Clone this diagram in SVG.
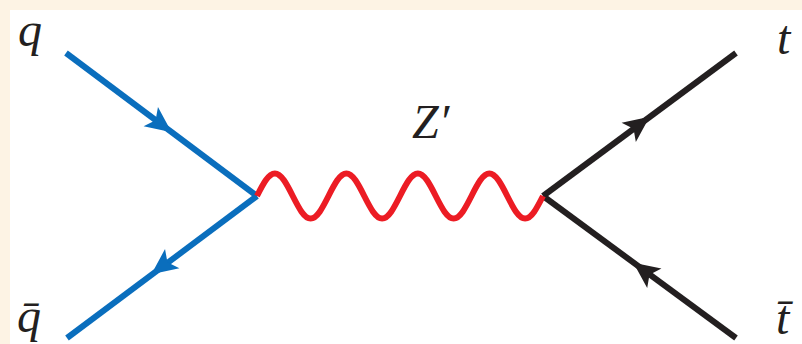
<svg xmlns="http://www.w3.org/2000/svg" width="802" height="344" viewBox="0 0 802 344">
<style>
.lbl{font-family:"Liberation Serif","Times New Roman",serif;font-style:italic;font-size:48px;fill:#231f20}
.q{stroke:#0a6ebd;stroke-width:6;fill:none}
.t{stroke:#231f20;stroke-width:6;fill:none}
.w{stroke:#ec1c24;stroke-width:6;fill:none;stroke-linecap:butt}
</style>
<defs>
<path id="ah" d="M2,0 L-24,-12 L-18,0 L-24,12 Z"/>
</defs>
<rect width="802" height="344" fill="#fdf3e4"/>
<rect x="10" y="10" width="792" height="334" fill="#ffffff"/>
<g id="connectors">
<line class="q" x1="66" y1="53" x2="257" y2="196"/>
<line class="q" x1="257" y1="196" x2="67" y2="338"/>
<line class="t" x1="543" y1="196" x2="736" y2="53"/>
<line class="t" x1="736" y1="338" x2="543" y2="196"/>
<path class="w" d="M257,196 c5.975,-11.81 11.43,-22.5 17.875,-22.5 c6.445,0 11.9,10.69 17.875,22.5 c5.975,11.81 11.43,22.5 17.875,22.5 c6.445,0 11.9,-10.69 17.875,-22.5 c5.975,-11.81 11.43,-22.5 17.875,-22.5 c6.445,0 11.9,10.69 17.875,22.5 c5.975,11.81 11.43,22.5 17.875,22.5 c6.445,0 11.9,-10.69 17.875,-22.5 c5.975,-11.81 11.43,-22.5 17.875,-22.5 c6.445,0 11.9,10.69 17.875,22.5 c5.975,11.81 11.43,22.5 17.875,22.5 c6.445,0 11.9,-10.69 17.875,-22.5 c5.975,-11.81 11.43,-22.5 17.875,-22.5 c6.445,0 11.9,10.69 17.875,22.5 c5.975,11.81 11.43,22.5 17.875,22.5 c6.445,0 11.9,-10.69 17.875,-22.5"/>
<use href="#ah" fill="#0a6ebd" transform="translate(170,131) rotate(36.8)"/>
<use href="#ah" fill="#0a6ebd" transform="translate(153,273) rotate(143.2)"/>
<use href="#ah" fill="#231f20" transform="translate(648,118) rotate(-36.5)"/>
<use href="#ah" fill="#231f20" transform="translate(635,264) rotate(-143.6)"/>
</g>
<g id="q"><text class="lbl" x="18" y="46">q</text></g>
<g id="qbar"><text class="lbl" x="17" y="332">q̄</text></g>
<g id="Zprime"><text class="lbl" x="412" y="138">Z′</text></g>
<g id="t"><text class="lbl" x="777" y="54">t</text></g>
<g id="tbar"><text class="lbl" x="776" y="334">t̄</text></g>
</svg>
